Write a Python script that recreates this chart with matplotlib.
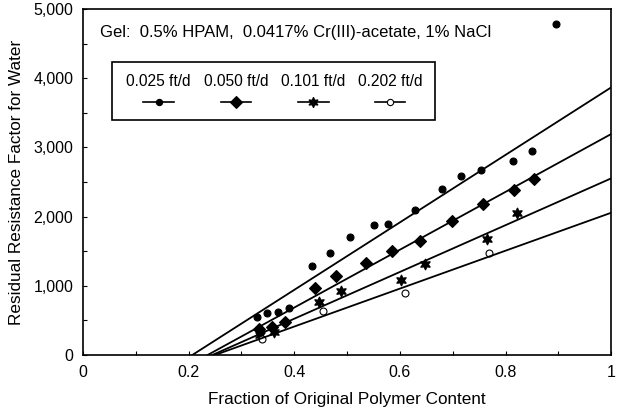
import numpy as np
import matplotlib.pyplot as plt
from matplotlib.ticker import MultipleLocator, FuncFormatter
from matplotlib.patches import Rectangle
from matplotlib.lines import Line2D

plt.rcParams['font.family'] = ['Liberation Sans', 'DejaVu Sans']

# Messpunkte (Anteil Polymer, Restwiderstandsfaktor)
x_025 = [0.329, 0.348, 0.370, 0.391, 0.434, 0.468, 0.506, 0.551, 0.577, 0.628,
         0.679, 0.716, 0.754, 0.814, 0.850, 0.895]
y_025 = [549, 607, 621, 679, 1286, 1474, 1705, 1879, 1893, 2095,
         2399, 2587, 2673, 2803, 2948, 4783]

x_050 = [0.333, 0.357, 0.383, 0.440, 0.479, 0.536, 0.586, 0.639, 0.699, 0.758, 0.816, 0.853]
y_050 = [376, 405, 477, 968, 1141, 1329, 1503, 1647, 1936, 2182, 2384, 2543]

x_101 = [0.336, 0.361, 0.447, 0.489, 0.603, 0.647, 0.765, 0.821]
y_101 = [289, 332, 766, 925, 1084, 1315, 1676, 2052]

x_202 = [0.338, 0.455, 0.609, 0.769]
y_202 = [231, 636, 896, 1474]

# Ausgleichsgeraden: Schnittpunkt mit x-Achse und Wert bei x = 1
fit_x0 = [0.207, 0.236, 0.245, 0.250]
fit_y1 = [3868, 3194, 2553, 2056]

rates = ['0.025 ft/d', '0.050 ft/d', '0.101 ft/d', '0.202 ft/d']
markers = ['o', 'D', (6, 1, 0), 'o']
msizes = [5, 6.5, 8, 5]
faces = ['black', 'black', 'black', 'white']

fig = plt.figure(figsize=(6.17, 4.15), dpi=100)
ax = fig.add_axes([0.1345, 0.1446, 0.856, 0.8334])

series = [(x_025, y_025), (x_050, y_050), (x_101, y_101), (x_202, y_202)]
for i, (xs, ys) in enumerate(series):
    ax.plot(xs, ys, linestyle='none', marker=markers[i], ms=msizes[i],
            mfc=faces[i], mec='black', mew=0.8)
    ax.plot([fit_x0[i], 1.0], [0, fit_y1[i]], color='black', lw=1.3)

ax.set_xlim(0, 1)
ax.set_ylim(0, 5000)
ax.xaxis.set_major_locator(MultipleLocator(0.2))
ax.xaxis.set_minor_locator(MultipleLocator(0.1))
ax.yaxis.set_major_locator(MultipleLocator(1000))
ax.yaxis.set_minor_locator(MultipleLocator(500))
ax.xaxis.set_major_formatter(FuncFormatter(lambda v, p: f'{round(v, 1):g}'))
ax.yaxis.set_major_formatter(FuncFormatter(lambda v, p: f'{int(round(v)):,}'))
ax.tick_params(which='both', direction='in', length=3, width=0.8, labelsize=11.5, pad=7)
for s in ax.spines.values():
    s.set_linewidth(1.2)

ax.set_xlabel('Fraction of Original Polymer Content', fontsize=12.3, labelpad=9)
ax.set_ylabel('Residual Resistance Factor for Water', fontsize=12.3, labelpad=7)

ax.text(0.032, 0.931, 'Gel:  0.5% HPAM,  0.0417% Cr(III)-acetate, 1% NaCl',
        transform=ax.transAxes, fontsize=12, va='center', ha='left')

# Legende (Beschriftung ueber Symbol)
ax.add_patch(Rectangle((0.055, 0.679), 0.612, 0.168, transform=ax.transAxes,
                       fill=False, lw=1.2, ec='black'))
leg_x = [0.143, 0.290, 0.436, 0.581]
for i in range(4):
    ax.text(leg_x[i], 0.792, rates[i], transform=ax.transAxes, fontsize=11.2,
            ha='center', va='center')
    ax.add_line(Line2D([leg_x[i] - 0.029, leg_x[i] + 0.029], [0.731, 0.731],
                       transform=ax.transAxes, color='black', lw=1.2))
    ax.plot([leg_x[i]], [0.731], transform=ax.transAxes, marker=markers[i],
            ms=msizes[i] - 0.5, mfc=faces[i], mec='black', mew=0.8, linestyle='none')

fig.savefig('out.png', dpi=100)
